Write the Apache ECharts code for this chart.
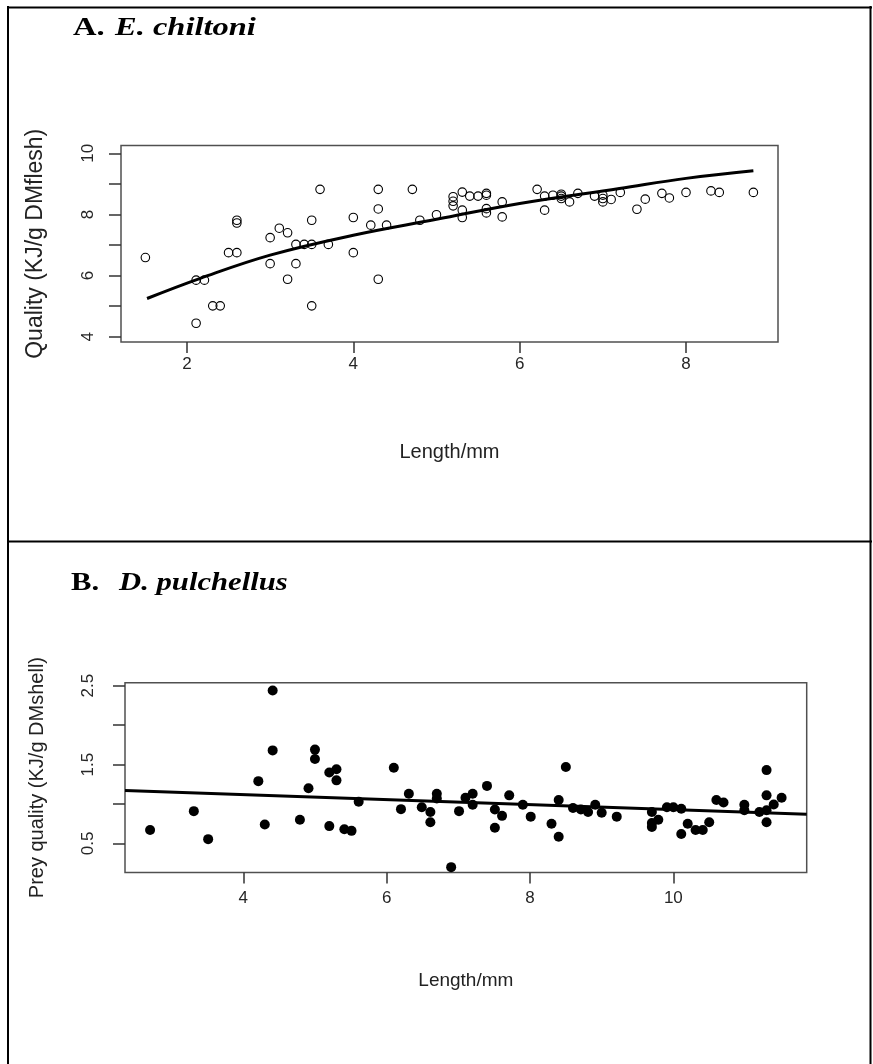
<!DOCTYPE html>
<html><head><meta charset="utf-8">
<script src="https://cdn.jsdelivr.net/npm/echarts@6/dist/echarts.min.js"></script>
<style>html,body{margin:0;padding:0;background:#fff}#c{width:873px;height:1064px}</style>
</head><body><div id="c"></div>
<script>
// Panel A: E. chiltoni
const aLength = [1.50,2.11,2.21,2.11,2.31,2.40,2.50,2.60,2.60,2.60,3.00,3.00,3.11,3.21,3.21,3.31,3.31,3.41,3.50,3.50,3.50,3.60,3.70,4.00,4.00,4.21,4.30,4.30,4.30,4.40,4.71,4.80,5.00,5.20,5.20,5.20,5.31,5.31,5.31,5.40,5.50,5.60,5.60,5.60,5.60,5.79,5.79,6.21,6.30,6.30,6.40,6.50,6.50,6.50,6.60,6.70,6.90,7.00,7.00,7.00,7.10,7.21,7.41,7.51,7.71,7.80,8.00,8.30,8.40,8.81];
const aQuality = [6.59,5.85,5.85,4.44,5.01,5.01,6.75,6.75,7.81,7.72,7.24,6.39,7.55,7.40,5.88,7.02,6.39,7.02,7.02,7.81,5.01,8.82,7.02,7.90,6.75,7.65,8.18,8.82,5.88,7.65,8.82,7.81,7.99,8.58,8.43,8.28,8.73,8.14,7.90,8.60,8.60,8.69,8.63,8.19,8.05,8.41,7.92,8.82,8.60,8.14,8.63,8.66,8.60,8.52,8.41,8.69,8.60,8.63,8.52,8.41,8.49,8.72,8.17,8.50,8.69,8.54,8.72,8.77,8.72,8.72];
const aFitLength = [1.52,2.16,3.00,4.00,5.00,6.00,7.20,8.00,8.81];
const aFitQuality = [5.25,5.91,6.67,7.32,7.84,8.36,8.85,9.18,9.43];
const aXTicks = [2,4,6,8];
const aYTicks = [4,5,6,7,8,9,10];
const aYLabels = [4,6,8,10];

// Panel B: D. pulchellus
const bLength = [2.70,3.31,3.51,4.21,4.30,4.41,4.41,4.79,4.91,5.00,5.00,5.20,5.30,5.30,5.20,5.41,5.51,5.61,6.10,6.20,6.31,6.49,6.61,6.61,6.70,6.70,6.90,7.01,7.10,7.20,7.20,7.40,7.51,7.51,7.61,7.71,7.90,8.01,8.30,8.40,8.40,8.50,8.60,8.71,8.81,8.91,9.00,9.21,9.70,9.70,9.70,9.79,9.91,10.00,10.11,10.11,10.20,10.31,10.41,10.50,10.60,10.70,10.99,10.99,11.20,11.30,11.30,11.30,11.30,11.40,11.51];
const bQuality = [0.67,0.91,0.555,1.29,0.74,2.44,1.68,0.80,1.20,1.69,1.57,1.40,1.44,1.30,0.72,0.68,0.66,1.03,1.46,0.935,1.13,0.96,0.90,0.77,1.13,1.07,0.20,0.91,1.08,1.13,0.99,1.23,0.93,0.70,0.85,1.11,0.99,0.84,0.75,1.05,0.585,1.47,0.95,0.93,0.90,0.99,0.89,0.84,0.90,0.76,0.71,0.80,0.96,0.96,0.94,0.62,0.75,0.67,0.67,0.77,1.05,1.02,0.99,0.92,0.90,1.43,1.11,0.92,0.77,0.995,1.08];
const bFitLength = [2.35,11.86];
const bFitQuality = [1.17,0.87];
const bXTicks = [4,6,8,10];
const bYTicks = [0.5,1.0,1.5,2.0,2.5];
const bYLabels = [0.5,1.5,2.5];

const zip = (xs, ys) => xs.map((x, i) => [x, ys[i]]);
const SANS = "'Liberation Sans', Arial, sans-serif";
const SERIF = "'Liberation Serif', 'Times New Roman', serif";
const tickStyle = {color: '#333', width: 1.5};
const labelBase = {color: '#262626', fontFamily: SANS, fontSize: 17};

function xAxisFor(grid, min, max, ticks, margin, nameGap, nameSize) {
  return {
    type: 'value', gridIndex: grid, min: min, max: max,
    axisLine: {show: false},
    splitLine: {show: false},
    axisTick: {show: true, length: 11, lineStyle: tickStyle, customValues: ticks},
    axisLabel: Object.assign({margin: margin, customValues: ticks}, labelBase),
    name: 'Length/mm', nameLocation: 'middle', nameGap: nameGap,
    nameTextStyle: {color: '#222', fontFamily: SANS, fontSize: nameSize}
  };
}
function yAxisFor(grid, min, max, ticks, labels, margin, name, nameGap, nameSize) {
  return {
    type: 'value', gridIndex: grid, min: min, max: max,
    axisLine: {show: false},
    splitLine: {show: false},
    axisTick: {show: true, length: 12, lineStyle: tickStyle, customValues: ticks},
    axisLabel: Object.assign({margin: margin, rotate: 90, customValues: labels}, labelBase),
    name: name, nameLocation: 'middle', nameGap: nameGap, nameRotate: 90,
    nameTextStyle: {color: '#222', fontFamily: SANS, fontSize: nameSize}
  };
}
function titleParts(x1, x2, y, sx, lead, rest) {
  const common = {fontFamily: SERIF, fontWeight: 'bold', fontSize: 26, fill: '#000', verticalAlign: 'middle', textAlign: 'left'};
  return [
    {type: 'text', x: x1, y: y, scaleX: sx, style: Object.assign({text: lead, x: 0, y: 0}, common)},
    {type: 'text', x: x2, y: y, scaleX: sx, style: Object.assign({text: rest, x: 0, y: 0, fontStyle: 'italic'}, common)}
  ];
}
const frame = {stroke: '#000', lineWidth: 2};

const chart = echarts.init(document.getElementById('c'), null, {renderer: 'canvas'});
chart.setOption({
  backgroundColor: '#fff',
  animation: false,
  grid: [
    {left: 121, top: 145.5, width: 657, height: 196.5, show: true, borderColor: '#505050', borderWidth: 1.5, backgroundColor: 'rgba(0,0,0,0)'},
    {left: 125, top: 682.7, width: 681.7, height: 189.8, show: true, borderColor: '#505050', borderWidth: 1.5, backgroundColor: 'rgba(0,0,0,0)'}
  ],
  xAxis: [
    xAxisFor(0, 1.207, 9.106, aXTicks, 14, 100, 20),
    xAxisFor(1, 2.35, 11.86, bXTicks, 17, 99, 19)
  ],
  yAxis: [
    yAxisFor(0, 3.827, 10.255, aYTicks, aYLabels, 24, 'Quality (KJ/g DMflesh)', 74, 23),
    yAxisFor(1, 0.132, 2.538, bYTicks, bYLabels, 28, 'Prey quality (KJ/g DMshell)', 78, 20)
  ],
  series: [
    {type: 'scatter', xAxisIndex: 0, yAxisIndex: 0, data: zip(aLength, aQuality), symbol: 'circle', symbolSize: 8.5,
     itemStyle: {color: 'rgba(0,0,0,0)', borderColor: '#000', borderWidth: 1.1, opacity: 1}, z: 2},
    {type: 'line', xAxisIndex: 0, yAxisIndex: 0, data: zip(aFitLength, aFitQuality), smooth: 0.4, showSymbol: false, symbol: 'none',
     lineStyle: {color: '#000', width: 3}, z: 3},
    {type: 'scatter', xAxisIndex: 1, yAxisIndex: 1, data: zip(bLength, bQuality), symbol: 'circle', symbolSize: 10,
     itemStyle: {color: '#000', opacity: 1}, z: 2},
    {type: 'line', xAxisIndex: 1, yAxisIndex: 1, data: zip(bFitLength, bFitQuality), showSymbol: false, symbol: 'none',
     lineStyle: {color: '#000', width: 3}, z: 3}
  ],
  graphic: [
    {type: 'line', shape: {x1: 8, y1: 6, x2: 8, y2: 1064}, style: frame},
    {type: 'line', shape: {x1: 7, y1: 7.5, x2: 872, y2: 7.5}, style: frame},
    {type: 'line', shape: {x1: 870.5, y1: 6, x2: 870.5, y2: 1064}, style: frame},
    {type: 'line', shape: {x1: 7, y1: 541.5, x2: 872, y2: 541.5}, style: frame}
  ].concat(titleParts(73, 115, 28.5, 1.25, 'A.', 'E. chiltoni'))
   .concat(titleParts(71, 119, 583, 1.18, 'B.', 'D. pulchellus'))
});
</script></body></html>
